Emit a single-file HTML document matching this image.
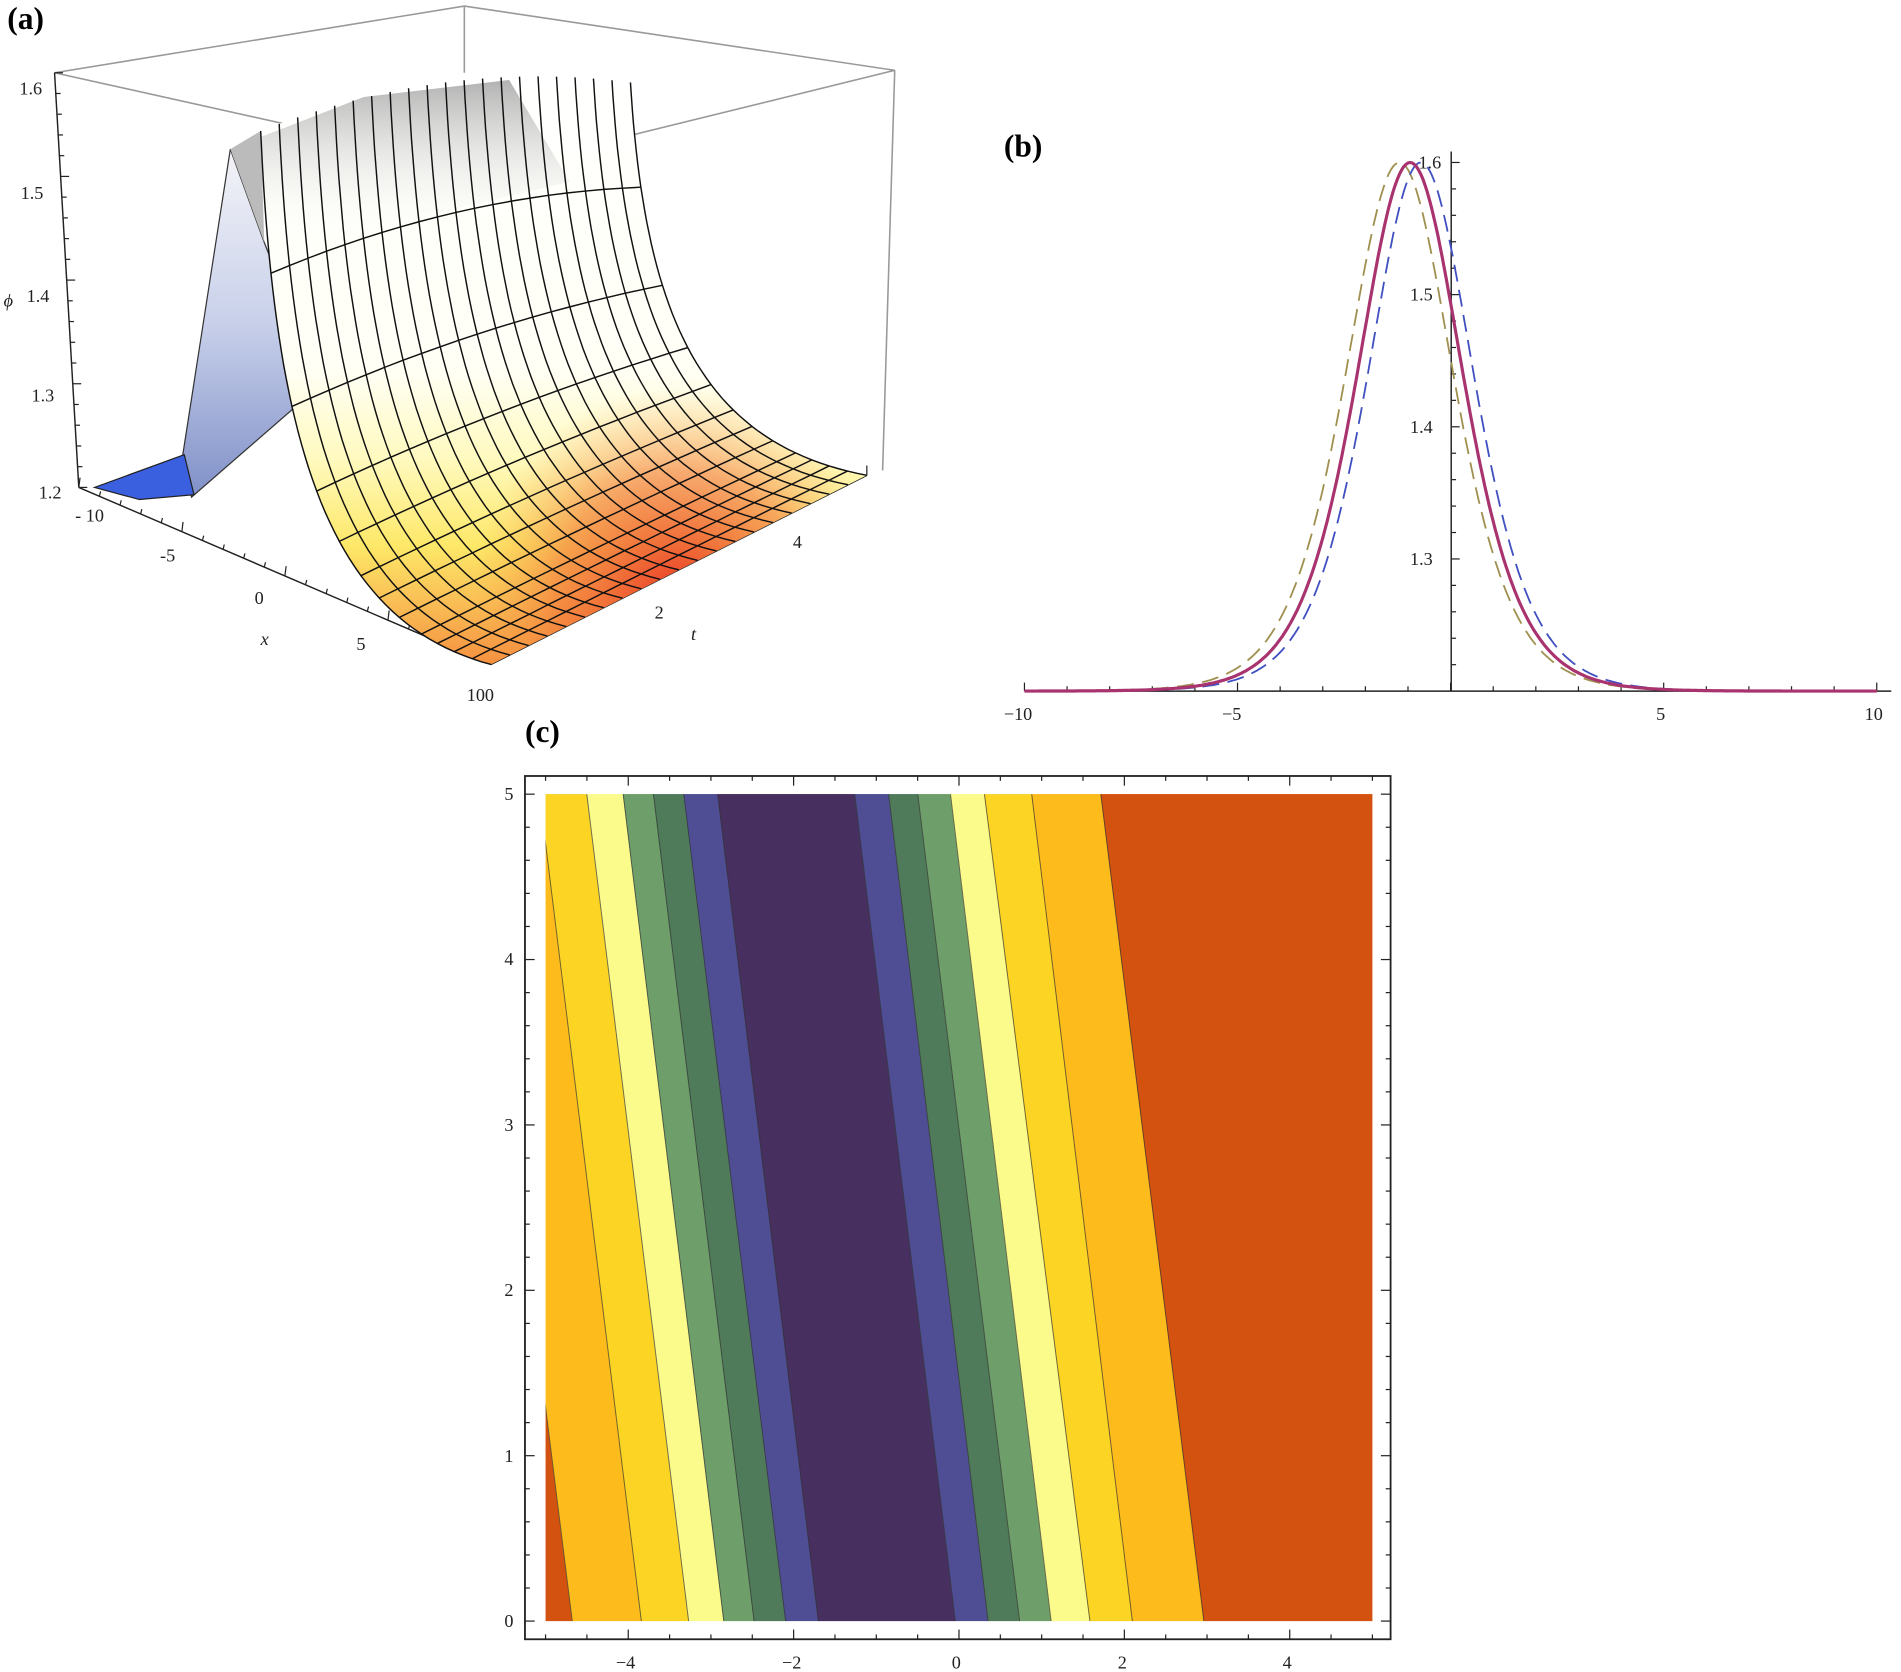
<!DOCTYPE html>
<html><head><meta charset="utf-8"><style>
html,body{margin:0;padding:0;background:#fff;}
svg{display:block;}
text{font-family:"Liberation Serif",serif;}
</style></head><body>
<svg id="s" width="1901" height="1672" viewBox="0 0 1568 1379" preserveAspectRatio="none" xmlns="http://www.w3.org/2000/svg">
<defs>
<linearGradient id="blueg" x1="0" y1="0" x2="0" y2="1">
<stop offset="0" stop-color="#f4f4f8"/><stop offset="0.5" stop-color="#c8d0ea"/><stop offset="1" stop-color="#8090c8"/></linearGradient>
<linearGradient id="sheet" x1="0" y1="60" x2="0" y2="548" gradientUnits="userSpaceOnUse">
<stop offset="0" stop-color="#ffffff"/><stop offset="0.5" stop-color="#fffff6"/><stop offset="0.65" stop-color="#fffac0"/><stop offset="0.8" stop-color="#fde868"/><stop offset="1" stop-color="#f59040"/></linearGradient>
<radialGradient id="redg" cx="560" cy="490" r="170" gradientUnits="userSpaceOnUse">
<stop offset="0" stop-color="#e82a20" stop-opacity="0.9"/><stop offset="0.6" stop-color="#f06030" stop-opacity="0.5"/><stop offset="1" stop-color="#f8a040" stop-opacity="0"/></radialGradient>
<linearGradient id="shade" x1="0" y1="0" x2="0" y2="1">
<stop offset="0" stop-color="#707070" stop-opacity="0.9"/><stop offset="1" stop-color="#ffffff" stop-opacity="0"/></linearGradient>
<clipPath id="cc"><rect x="450" y="655" width="682" height="682"/></clipPath>
</defs>

<text x="6" y="24" font-size="26" font-weight="bold">(a)</text>
<g stroke="#999" stroke-width="1.3" fill="none">
<polyline points="45,60 383,5 738,58"/>
<polyline points="45,60 405,140 738,58"/>
<line x1="383" y1="5" x2="383" y2="60"/>
<line x1="738" y1="58" x2="728" y2="388"/>
<line x1="405" y1="140" x2="405" y2="545"/>
</g>
<g stroke="#222" stroke-width="1.2" fill="none">
<line x1="45" y1="60" x2="65" y2="402"/>
<polyline points="65,402 405,548 715,392"/>
</g>
<g id="aticks" stroke="#222" stroke-width="1"></g>
<polygon points="150,380 190,123 218,200 245,270 250,330 158,410" fill="url(#blueg)" stroke="#333" stroke-width="1"/>
<polygon points="78,402 152,375 160,408 115,412" fill="#3a60e0" stroke="#222" stroke-width="1"/>
<g id="asheet"></g>
<g font-size="15" fill="#222">
<text x="16" y="78">1.6</text><text x="17" y="164">1.5</text><text x="22" y="249">1.4</text><text x="26" y="331">1.3</text><text x="32" y="411">1.2</text>
<text x="3" y="253" font-style="italic">ϕ</text>
<text x="62" y="430">- 10</text><text x="132" y="463">-5</text><text x="210" y="498">0</text><text x="294" y="536">5</text><text x="385" y="578">100</text>
<text x="215" y="532" font-style="italic">x</text>
<text x="540" y="510">2</text><text x="654" y="452">4</text><text x="570" y="528" font-style="italic">t</text>
</g>

<text x="828" y="129" font-size="26" font-weight="bold">(b)</text>
<g stroke="#222" stroke-width="1.2">
<line x1="845" y1="570" x2="1560" y2="570"/>
<line x1="1197" y1="125" x2="1197" y2="570"/>
</g>
<g id="bticks" stroke="#222" stroke-width="1"></g>
<g font-size="15" fill="#222">
<text x="828" y="594">−10</text><text x="1008" y="594">−5</text><text x="1366" y="594">5</text><text x="1538" y="594">10</text>
<text x="1163" y="466">1.3</text><text x="1163" y="357">1.4</text><text x="1163" y="248">1.5</text><text x="1170" y="139">1.6</text>
</g>
<g id="bcurves" fill="none"></g>

<text x="433" y="612" font-size="26" font-weight="bold">(c)</text>
<g id="cbands" clip-path="url(#cc)"></g>
<rect x="433" y="640" width="714" height="712" fill="none" stroke="#222" stroke-width="1.5"/>
<g id="cticks" stroke="#222" stroke-width="1"></g>
<g font-size="15" fill="#222">
<text x="508" y="1376">−4</text><text x="645" y="1376">−2</text><text x="785" y="1376">0</text><text x="922" y="1376">2</text><text x="1058" y="1376">4</text>
<text x="416" y="1342">0</text><text x="416" y="1206">1</text><text x="416" y="1069">2</text><text x="416" y="933">3</text><text x="416" y="796">4</text><text x="416" y="660">5</text>
</g>
</svg>
<script>
(function(){
var NS="http://www.w3.org/2000/svg";
function el(p,t,a){var e=document.createElementNS(NS,t);for(var k in a)e.setAttribute(k,a[k]);document.getElementById(p).appendChild(e);return e;}
var B=[[300,300],[387,472],[445,529],[484,568],[514,597],[539,622],[564,648],[592,675],[705,788],[733,815],[757,841],[784,867],[812,899],[851,934],[908,993],[1300,1300]];
var C=["#d4520f","#fdbb1c","#fbd424","#fbfb8c","#6e9e6a","#4f7b5a","#4f4e94","#472f60","#4f4e94","#4f7b5a","#6e9e6a","#fbfb8c","#fbd424","#fdbb1c","#d4520f"];
for(var i=0;i<C.length;i++){var a=B[i],b=B[i+1];
el("cbands","polygon",{points:a[0]+",655 "+b[0]+",655 "+b[1]+",1337 "+a[1]+",1337",fill:C[i],stroke:C[i],"stroke-width":0.5});}
for(var i=1;i<B.length-1;i++)el("cbands","line",{x1:B[i][0],y1:655,x2:B[i][1],y2:1337,stroke:"#333","stroke-width":0.8,"stroke-opacity":0.7});
for(var v=-5;v<=5.001;v+=0.5){var x=450+68.2*(v+5),L=(Math.abs(v%2)<0.01)?8:4;
el("cticks","line",{x1:x,y1:1352,x2:x,y2:1352-L});el("cticks","line",{x1:x,y1:640,x2:x,y2:640+L});}
for(var v=0;v<=5.001;v+=0.2){var y=1337-136.4*v,L=(Math.abs(v-Math.round(v))<0.01)?8:4;
el("cticks","line",{x1:433,y1:y,x2:433+L,y2:y});el("cticks","line",{x1:1147,y1:y,x2:1147-L,y2:y});}
function X(x){return 1196.5+35.15*x;}function Y(y){return 570-1090*(y-1.2);}
function sech2(u){var c=Math.cosh(u);return 1/(c*c);}
function curve(c0,k,col,w,dash){var p="";for(var x=-10;x<=10.001;x+=0.05){var y=1.2+0.4*sech2(k*(x-c0));p+=(p?" L":"M")+X(x).toFixed(1)+","+Y(y).toFixed(1);}
var a={d:p,stroke:col,"stroke-width":w};if(dash)a["stroke-dasharray"]=dash;el("bcurves","path",a);}
curve(-1.2,0.59,"#a09050",1.5,"14,7");
curve(-0.7,0.6,"#4050c0",1.5,"14,7");
curve(-0.95,0.6,"#a8336f",2.6,null);
for(var v=-10;v<=10;v++){var L=(v%5==0)?7:4;el("bticks","line",{x1:X(v),y1:570,x2:X(v),y2:570-L});}
for(var v=1.22;v<=1.601;v+=0.02){var r=Math.abs(v*10-Math.round(v*10))<0.01;el("bticks","line",{x1:1197,y1:Y(v),x2:1197+(r?7:4),y2:Y(v)});}
for(var i=0;i<=20;i++){var t=i/20;var x=45+20*t,y=60+342*t;el("aticks","line",{x1:x,y1:y,x2:x+(i%5==0?7:4),y2:y});}
for(var i=0;i<=20;i++){var t=i/20;var x=65+340*t,y=402+146*t;el("aticks","line",{x1:x,y1:y,x2:x+1,y2:y-(i%5==0?8:4)});}
for(var i=0;i<=25;i++){var t=i/25;var x=405+310*t,y=548-156*t;el("aticks","line",{x1:x,y1:y,x2:x,y2:y-(i%5==0?8:4)});}
var N=20;function bez(P0,P1,P2,P3,s){var m=1-s;return [m*m*m*P0[0]+3*m*m*s*P1[0]+3*m*s*s*P2[0]+s*s*s*P3[0],m*m*m*P0[1]+3*m*m*s*P1[1]+3*m*s*s*P2[1]+s*s*s*P3[1]];}
var lines=[];
for(var i=0;i<=N;i++){var f=i/N;
var tp=[215+305*f,108-40*f-80*f*(1-f)];var fl=[405+310*f,548-156*f];
var dx=fl[0]-tp[0],dy=fl[1]-tp[1];
var c1=[tp[0]+12,tp[1]+0.6*dy];var c2=[tp[0]+0.3*dx,fl[1]-0.08*dy];
var pts=[];for(var j=0;j<=50;j++)pts.push(bez(tp,c1,c2,fl,j/50));lines.push(pts);}
var poly=lines[0].slice().concat(lines[N].slice().reverse());
for(var i=N;i>=0;i--)poly.push(lines[i][0]);
var ps=poly.map(function(p){return p[0].toFixed(1)+","+p[1].toFixed(1);}).join(" ");
el("asheet","polygon",{points:ps,fill:"url(#sheet)"});
el("asheet","polygon",{points:ps,fill:"url(#redg)"});
el("asheet","polygon",{points:"192,122 300,80 420,66 470,150 300,190 218,200",fill:"url(#shade)","fill-opacity":0.6});
el("asheet","polygon",{points:"190,123 215,108 218,200",fill:"#bbb"});
for(var i=0;i<=N;i++){var d="";lines[i].forEach(function(p,j){d+=(j?" L":"M")+p[0].toFixed(1)+","+p[1].toFixed(1);});
el("asheet","path",{d:d,fill:"none",stroke:"#111","stroke-width":1.2});}
var ss=[8,17,24,29,33,36,39,42,44,46,48];
ss.forEach(function(j){var d="";for(var i=0;i<=N;i++){var p=lines[i][j];d+=(i?" L":"M")+p[0].toFixed(1)+","+p[1].toFixed(1);}
el("asheet","path",{d:d,fill:"none",stroke:"#111","stroke-width":1.2});});
})();
</script>
</body></html>
